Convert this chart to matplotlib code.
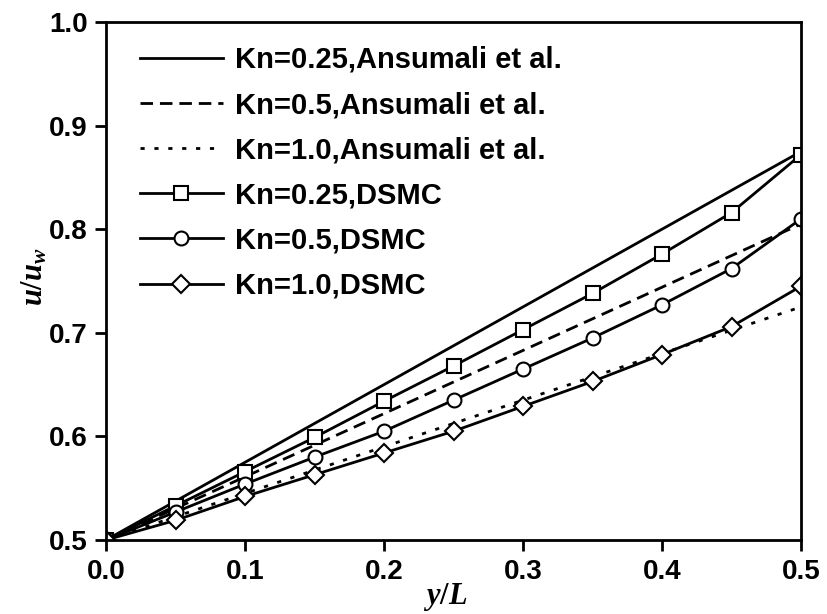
import numpy as np
import matplotlib
matplotlib.use("Agg")
import matplotlib.pyplot as plt
from matplotlib.ticker import FormatStrFormatter

plt.rcParams['font.family'] = ['Liberation Sans', 'DejaVu Sans']
plt.rcParams['mathtext.fontset'] = 'custom'
plt.rcParams['mathtext.it'] = 'Liberation Serif:italic:bold'
plt.rcParams['mathtext.rm'] = 'Liberation Serif:bold'

# analytical (Ansumali et al.) profiles: straight lines
x_ans = [0.0, 0.5]
ans_025 = [0.5, 0.875]
ans_05 = [0.5, 0.805]
ans_10 = [0.5, 0.725]

# DSMC points
x_dsmc = [0.0, 0.05, 0.10, 0.15, 0.20, 0.25, 0.30, 0.35, 0.40, 0.45, 0.50]
dsmc_025 = [0.5, 0.533, 0.566, 0.599, 0.634, 0.668, 0.703, 0.738, 0.776, 0.816, 0.872]
dsmc_05 = [0.5, 0.527, 0.554, 0.580, 0.605, 0.635, 0.665, 0.695, 0.727, 0.762, 0.810]
dsmc_10 = [0.5, 0.519, 0.542, 0.563, 0.584, 0.605, 0.629, 0.653, 0.679, 0.706, 0.745]

fig = plt.figure(figsize=(8.27, 6.14), dpi=100)
ax = fig.add_axes([0.1282, 0.1205, 0.8404, 0.8437])

lw = 2.0
ax.plot(x_ans, ans_025, color='black', lw=lw, label='Kn=0.25,Ansumali et al.')
ax.plot(x_ans, ans_05, color='black', lw=lw, dashes=(4.5, 2.5), label='Kn=0.5,Ansumali et al.')
ax.plot(x_ans, ans_10, color='black', lw=lw, dashes=(1.5, 3.5), label='Kn=1.0,Ansumali et al.')

mk = dict(color='black', lw=lw, mfc='white', mec='black', mew=1.5)
ax.plot(x_dsmc, dsmc_025, marker='s', ms=9.5, label='Kn=0.25,DSMC', **mk)
ax.plot(x_dsmc, dsmc_05, marker='o', ms=10, label='Kn=0.5,DSMC', **mk)
ax.plot(x_dsmc, dsmc_10, marker='D', ms=9, label='Kn=1.0,DSMC', **mk)

ax.set_xlim(0, 0.5)
ax.set_ylim(0.5, 1.0)
ax.set_xticks([0.0, 0.1, 0.2, 0.3, 0.4, 0.5])
ax.set_yticks([0.5, 0.6, 0.7, 0.8, 0.9, 1.0])
ax.xaxis.set_major_formatter(FormatStrFormatter('%.1f'))
ax.yaxis.set_major_formatter(FormatStrFormatter('%.1f'))
ax.tick_params(direction='out', length=8, width=2, labelsize=20)
ax.tick_params(axis='x', pad=6)
ax.tick_params(axis='y', pad=5)
for lab in ax.get_xticklabels() + ax.get_yticklabels():
    lab.set_fontweight('bold')
for s in ax.spines.values():
    s.set_linewidth(2)

ax.set_xlabel(r'$y/L$', fontsize=22)
ax.xaxis.set_label_coords(0.488, -0.08)
ax.set_ylabel(r'$u/u_w$', fontsize=22)
ax.yaxis.set_label_coords(-0.081, 0.508)

ax.legend(loc='upper left', frameon=False, prop={'size': 21, 'weight': 'bold'},
          handlelength=2.84, handletextpad=0.41, labelspacing=0.59,
          borderpad=0, borderaxespad=0, bbox_to_anchor=(0.049, 0.954))

fig.savefig('out.png', dpi=100)
